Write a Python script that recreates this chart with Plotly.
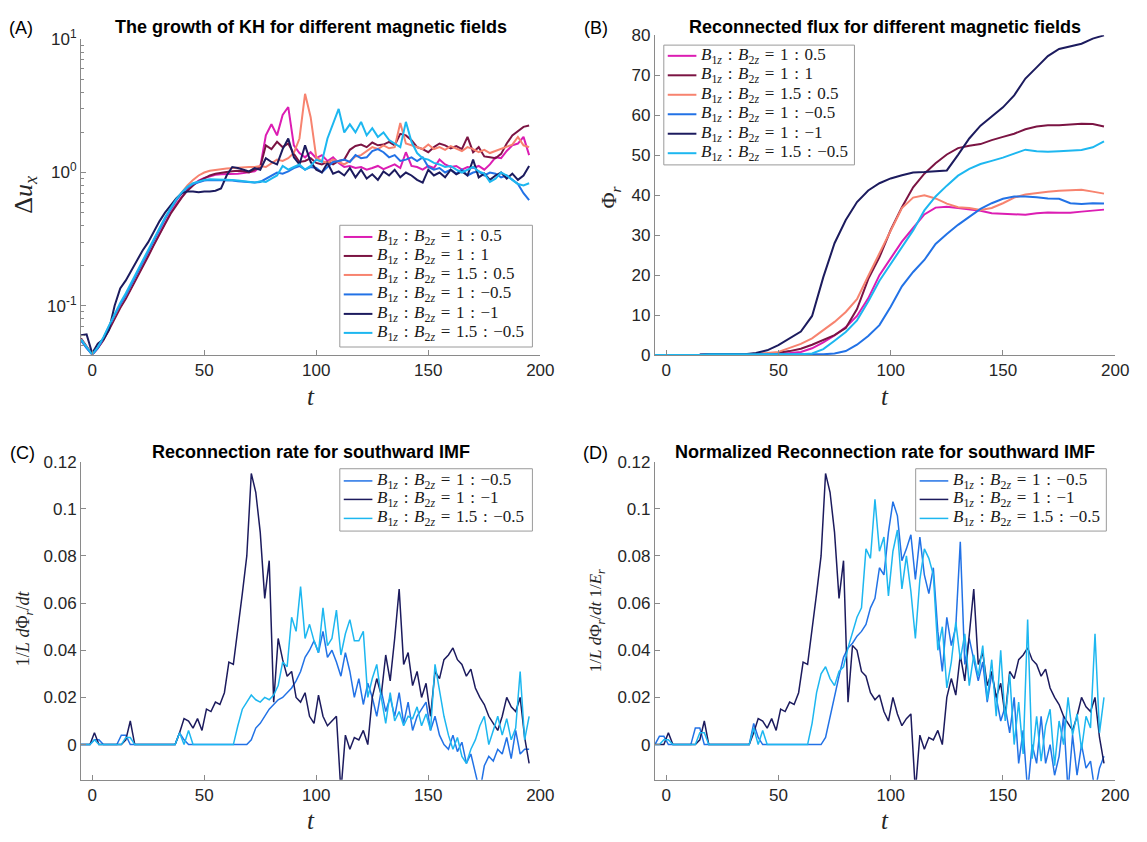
import plotly.graph_objects as go

W, H = 1147, 842

# ---------------- data ----------------
# Panel A: time grid and velocity shear growth (log scale)
t_a = [-5, -2.5, 0, 2.5, 5, 7.5, 10, 12.5, 15, 17.5, 20, 22.5, 25, 27.5, 30, 32.5, 35, 37.5,
       40, 42.5, 45, 47.5, 50, 52.5, 55, 57.5, 60, 62.5, 65, 67.5, 70, 72.5, 75, 77.5, 80, 82.5,
       85, 87.5, 90, 92.5, 95, 97.5, 100, 102.5, 105, 107.5, 110, 112.5, 115, 117.5, 120, 122.5,
       125, 127.5, 130, 132.5, 135, 137.5, 140, 142.5, 145, 147.5, 150, 152.5, 155, 157.5, 160,
       162.5, 165, 167.5, 170, 172.5, 175, 177.5, 180, 182.5, 185, 187.5, 190, 192.5, 195]

du_1_05 = [0.055, 0.049, 0.043, 0.048, 0.056, 0.068, 0.082, 0.098, 0.115, 0.138, 0.165, 0.2, 0.24, 0.29, 0.35,
           0.42, 0.5, 0.58, 0.66, 0.74, 0.81, 0.87, 0.91, 0.94, 0.96, 0.97, 0.97, 0.98, 0.98, 0.99,
           1.0, 1.02, 1.1, 1.9, 2.3, 1.9, 2.7, 3.1, 1.6, 1.4, 1.3, 1.42, 1.28, 1.35, 1.22, 1.3, 1.18, 1.1,
           1.12, 1.08, 1.1, 1.05, 1.08, 1.12, 1.06, 1.1, 1.15, 1.08, 1.42, 1.12, 1.1, 1.05, 1.12, 1.08,
           1.25, 1.15, 1.1, 1.12, 1.05, 1.1, 1.08, 1.12, 1.05, 1.15, 1.3, 1.28, 1.45, 1.6, 1.65, 1.85, 1.35]
du_1_1 = [0.057, 0.05, 0.043, 0.048, 0.055, 0.066, 0.08, 0.096, 0.113, 0.135, 0.162, 0.195, 0.235, 0.285, 0.345,
          0.41, 0.49, 0.57, 0.65, 0.73, 0.8, 0.86, 0.91, 0.95, 0.98, 1.0, 1.01, 1.02, 1.03, 1.02,
          1.0, 1.05, 1.1, 1.6, 1.5, 1.7, 1.55, 1.65, 1.38, 1.2, 1.22, 1.28, 1.18, 1.15, 1.2, 1.15, 1.22, 1.25,
          1.48, 1.58, 1.62, 1.55, 1.68, 1.6, 1.62, 1.7, 1.6, 1.95, 1.9, 1.75, 1.55, 1.5, 1.42, 1.55, 1.65,
          1.6, 1.52, 1.58, 1.5, 1.85, 1.42, 1.55, 1.32, 1.3, 1.28, 1.38, 1.65, 1.9, 2.05, 2.2, 2.25]
du_15_05 = [0.056, 0.049, 0.043, 0.049, 0.057, 0.07, 0.085, 0.102, 0.12, 0.145, 0.175, 0.21, 0.255, 0.31, 0.37,
            0.45, 0.53, 0.62, 0.71, 0.8, 0.88, 0.95, 1.0, 1.03, 1.05, 1.06, 1.07, 1.08, 1.09, 1.1,
            1.1, 1.1, 1.12, 1.1, 1.18, 1.25, 1.22, 1.28, 1.4, 1.8, 3.9, 2.6, 1.3, 1.22, 1.18, 1.25, 1.2, 1.15,
            1.22, 1.32, 1.35, 1.45, 1.55, 1.5, 1.6, 1.52, 1.55, 2.35, 1.65, 1.6, 1.55, 1.5, 1.62, 1.5, 1.55,
            1.48, 1.58, 1.52, 1.45, 1.55, 1.5, 1.42, 1.48, 1.4, 1.45, 1.5, 1.55, 1.62, 1.85, 1.6, 1.55]
du_1_m05 = [0.055, 0.048, 0.043, 0.048, 0.057, 0.07, 0.085, 0.102, 0.12, 0.145, 0.175, 0.21, 0.255, 0.31, 0.375,
            0.45, 0.53, 0.62, 0.7, 0.77, 0.82, 0.85, 0.87, 0.88, 0.88, 0.88, 0.87, 0.87, 0.86, 0.85,
            0.85, 0.84, 0.85, 0.9, 0.95, 1.0, 0.98, 1.02, 1.08, 1.12, 1.05, 1.1, 1.08, 1.0, 1.1, 1.2, 1.22, 1.25,
            1.2, 1.35, 1.28, 1.3, 1.45, 1.5, 1.42, 1.3, 1.35, 1.22, 1.25, 1.3, 1.22, 1.3, 1.1, 1.05, 1.08,
            1.0, 1.05, 0.98, 1.05, 0.95, 1.0, 1.02, 0.95, 1.0, 0.98, 0.92, 0.95, 0.88, 0.82, 0.7, 0.62]
du_1_m1 = [0.06, 0.061, 0.044, 0.052, 0.056, 0.066, 0.1, 0.135, 0.155, 0.185, 0.22, 0.26, 0.3, 0.36, 0.43,
           0.5, 0.57, 0.64, 0.7, 0.72, 0.72, 0.71, 0.72, 0.72, 0.73, 0.76, 0.95, 1.1, 1.08, 1.05,
           1.02, 1.08, 1.05, 1.28, 1.2, 1.15, 1.5, 1.8, 1.3, 1.15, 1.6, 1.2, 1.05, 1.0, 1.18, 0.98, 1.02, 0.95,
           1.08, 0.92, 1.05, 0.9, 0.97, 0.88, 1.02, 0.95, 1.05, 0.92, 1.0, 0.95, 0.88, 0.84, 1.05, 0.95, 1.0,
           0.92, 1.05, 0.97, 1.02, 0.95, 1.25, 0.92, 0.98, 0.88, 0.95, 1.0, 0.9, 0.98, 0.88, 0.95, 1.12]
du_15_m05 = [0.056, 0.049, 0.043, 0.049, 0.058, 0.071, 0.087, 0.105, 0.124, 0.15, 0.18, 0.22, 0.265, 0.32, 0.39,
             0.46, 0.54, 0.63, 0.71, 0.78, 0.83, 0.86, 0.88, 0.89, 0.89, 0.89, 0.88, 0.88, 0.87, 0.86,
             0.85, 0.84, 0.86, 0.85, 0.9, 0.95, 1.12, 1.05, 1.1, 1.15, 1.05, 1.12, 1.25, 1.2, 1.8, 2.3, 3.0, 2.0,
             2.3, 2.0, 2.4, 1.9, 2.15, 1.85, 2.0, 1.75, 1.65, 1.55, 2.4, 1.7, 1.4, 1.28, 1.25, 1.18, 1.15,
             1.1, 1.12, 1.05, 1.0, 1.05, 1.1, 1.02, 0.98, 0.85, 0.9, 1.0, 0.95, 0.88, 0.82, 0.8, 0.83]

# Panel B: reconnected flux
t_b = [-5, 0, 5, 10, 15, 20, 25, 30, 35, 40, 45, 50, 55, 60, 65, 70, 75, 80, 85, 90, 95, 100, 105,
       110, 115, 120, 125, 130, 135, 140, 145, 150, 155, 160, 165, 170, 175, 180, 185, 190, 195]
phi_1_05 = [0, 0, 0, 0, 0.1, 0.2, 0.2, 0.2, 0.2, 0.2, 0.3, 0.4, 0.5, 0.8, 1.7, 3.2, 4.9, 7.0, 9.8, 14.2,
            20.0, 24.2, 28.4, 31.8, 35.2, 36.9, 37.1, 36.8, 36.4, 36.1, 35.5, 35.4, 35.2, 35.1, 35.5,
            35.7, 35.6, 35.6, 35.9, 36.2, 36.4]
phi_1_1 = [0, 0, 0, 0, 0.1, 0.2, 0.2, 0.2, 0.2, 0.3, 0.4, 0.6, 1.0, 1.6, 2.6, 3.7, 5.0, 6.8, 11.5, 19.0,
           24.5, 31.3, 37.0, 42.0, 45.4, 48.0, 50.2, 51.8, 52.4, 52.8, 53.8, 54.6, 55.4, 56.5, 57.2,
           57.5, 57.5, 57.7, 57.9, 57.8, 57.2]
phi_15_05 = [0, 0, 0, 0, 0.1, 0.2, 0.2, 0.2, 0.2, 0.3, 0.5, 0.8, 1.8, 2.8, 4.2, 6.2, 8.3, 10.8, 14.0, 19.8,
             25.6, 31.2, 36.8, 39.4, 40.0, 39.2, 37.9, 37.0, 36.8, 36.3, 36.8, 38.0, 39.4, 40.2, 40.6,
             40.9, 41.1, 41.3, 41.4, 40.9, 40.4]
phi_1_m05 = [0, 0, 0, 0, 0.1, 0.2, 0.2, 0.2, 0.2, 0.2, 0.2, 0.2, 0.2, 0.2, 0.2, 0.2, 0.4, 1.0, 2.6, 4.8,
             7.5, 12.1, 17.2, 20.8, 23.8, 27.8, 30.3, 32.6, 34.6, 36.6, 38.0, 39.1, 39.7, 39.7, 39.5,
             39.2, 39.1, 38.0, 37.8, 38.0, 37.9]
phi_1_m1 = [0, 0, 0, 0, 0.1, 0.2, 0.2, 0.2, 0.2, 0.5, 1.2, 2.5, 4.2, 5.9, 9.8, 19.5, 28.0, 33.8, 38.3, 41.2,
            43.0, 44.2, 45.0, 45.7, 45.8, 46.0, 46.2, 50.1, 54.2, 57.4, 59.6, 62.0, 65.0, 69.2, 72.0,
            74.8, 76.6, 77.2, 77.9, 79.2, 80.0]
phi_15_m05 = [0, 0, 0, 0, 0.1, 0.2, 0.2, 0.2, 0.2, 0.2, 0.2, 0.2, 0.2, 0.2, 0.4, 1.5, 3.6, 5.8, 8.7, 13.4,
              18.6, 22.8, 27.2, 31.2, 36.2, 39.7, 42.4, 44.9, 46.6, 47.8, 48.6, 49.4, 50.4, 51.4, 51.0,
              50.9, 51.0, 51.2, 51.3, 52.0, 53.5]

# Panels C and D: reconnection rates (southward IMF)
t_c = [-5, -3, -1, 1, 3, 5, 7, 9, 11, 13, 15, 17, 19, 21, 23, 25, 27, 29, 31, 33, 35, 37, 39, 41, 43,
       45, 47, 49, 51, 53, 55, 57, 59, 61, 63, 65, 67, 69, 71, 73, 75, 77, 79, 81, 83, 85, 87, 89, 91,
       93, 95, 97, 99, 101, 103, 105, 107, 109, 111, 113, 115, 117, 119, 121, 123, 125, 127, 129, 131,
       133, 135, 137, 139, 141, 143, 145, 147, 149, 151, 153, 155, 157, 159, 161, 163, 165, 167, 169,
       171, 173, 175, 177, 179, 181, 183, 185, 187, 189, 191, 193, 195]

rate_1_m05 = [0, 0, 0, 0.002, 0.002, 0, 0, 0, 0, 0.004, 0.004, 0, 0, 0, 0, 0, 0, 0, 0, 0, 0, 0, 0.005, 0.002, 0,
              0, 0, 0, 0, 0, 0, 0, 0, 0, 0, 0, 0, 0, 0.002, 0.007, 0.009, 0.012, 0.015, 0.017, 0.019, 0.02,
              0.022, 0.024, 0.027, 0.031, 0.037, 0.04, 0.044, 0.039, 0.048, 0.037, 0.04, 0.035, 0.029, 0.039,
              0.031, 0.02, 0.028, 0.017, 0.026, 0.02, 0.012, 0.023, 0.014, 0.02, 0.012, 0.022, 0.009, 0.018,
              0.006, 0.012, 0.015, 0.018, 0.006, 0.012, 0.004, 0.0, -0.002, 0.004, -0.003, 0.001, -0.008,
              -0.004, -0.012, -0.02, -0.009, -0.005, -0.007, -0.002, -0.004, 0.003, -0.006, 0.006, -0.004,
              -0.002, -0.002]
rate_1_m1 = [0, 0, 0, 0.005, 0, 0, 0, 0, 0, 0, 0.002, 0.01, 0, 0, 0, 0, 0, 0, 0, 0, 0, 0, 0.005, 0.011, 0.01,
             0.007, 0.011, 0.006, 0.015, 0.014, 0.018, 0.017, 0.022, 0.035, 0.034, 0.048, 0.064, 0.08, 0.115,
             0.107, 0.09, 0.062, 0.078, 0.018, 0.045, 0.036, 0.029, 0.031, 0.02, 0.018, 0.022, 0.012, 0.009,
             0.021, 0.012, 0.008, 0.01, 0.012, -0.02, 0.004, -0.002, 0.003, 0.002, 0.006, 0.0, 0.02, 0.028,
             0.021, 0.038, 0.027, 0.045, 0.066, 0.034, 0.039, 0.025, 0.031, 0.02, 0.026, 0.012, 0.031, 0.028,
             0.036, 0.038, 0.041, 0.036, 0.034, 0.029, 0.032, 0.024, 0.02, 0.017, 0.012, 0.009, 0.006, 0.012,
             0.02, 0.016, 0.014, 0.02, 0.003, -0.008]
rate_15_m05 = [0, 0, 0, 0.002, 0, 0, 0, 0, 0, 0, 0.003, 0.003, 0, 0, 0, 0, 0, 0, 0, 0, 0, 0, 0.005, 0.0, 0.006,
               0, 0, 0, 0, 0, 0, 0, 0, 0, 0, 0.008, 0.015, 0.018, 0.021, 0.019, 0.018, 0.02, 0.019, 0.021,
               0.025, 0.035, 0.033, 0.054, 0.048, 0.067, 0.045, 0.051, 0.044, 0.039, 0.058, 0.042, 0.045,
               0.057, 0.038, 0.047, 0.053, 0.044, 0.044, 0.048, 0.02, 0.028, 0.034, 0.02, 0.009, 0.022, 0.01,
               0.014, 0.008, 0.012, 0.011, 0.016, 0.008, 0.013, 0.006, 0.034, 0.022, 0.012, 0.004, -0.002,
               0.003, -0.005, -0.008, -0.002, 0.002, 0.008, 0.012, 0.0, 0.006, 0.012, 0.004, 0.011, 0.002,
               0.007, 0.031, 0.002, 0.012]

nrate_1_m05 = [0, 0.0035, 0.0035, 0, 0, 0, 0, 0, 0, 0.007, 0.007, 0, 0, 0, 0, 0, 0, 0, 0, 0, 0, 0, 0.009, 0.003,
               0, 0, 0, 0, 0, 0, 0, 0, 0, 0, 0, 0, 0, 0, 0.003, 0.012, 0.02, 0.029, 0.037, 0.041, 0.043,
               0.046, 0.048, 0.051, 0.058, 0.062, 0.075, 0.072, 0.09, 0.103, 0.097, 0.078, 0.083, 0.089, 0.07,
               0.088, 0.072, 0.064, 0.075, 0.048, 0.031, 0.054, 0.042, 0.05, 0.086, 0.034, 0.045, 0.036,
               0.027, 0.035, 0.018, 0.03, 0.02, 0.01, 0.016, 0.005, 0.02, -0.008, 0.006, -0.02, 0.0, -0.008,
               0.012, -0.008, 0.0, -0.013, -0.005, 0.012, -0.02, 0.004, -0.013, 0.0, -0.01, -0.007, -0.02,
               -0.01, -0.005]
nrate_1_m1 = [0, 0, 0, 0.005, 0, 0, 0, 0, 0, 0, 0.002, 0.01, 0, 0, 0, 0, 0, 0, 0, 0, 0, 0, 0.005, 0.011, 0.01,
              0.007, 0.011, 0.006, 0.015, 0.014, 0.018, 0.017, 0.022, 0.035, 0.034, 0.048, 0.064, 0.08, 0.115,
              0.107, 0.09, 0.062, 0.078, 0.018, 0.042, 0.04, 0.031, 0.029, 0.022, 0.019, 0.021, 0.014, 0.01,
              0.02, 0.013, 0.008, 0.011, 0.013, -0.02, 0.004, -0.002, 0.003, 0.002, 0.006, 0.0, 0.02, 0.028,
              0.021, 0.038, 0.027, 0.045, 0.066, 0.034, 0.039, 0.025, 0.031, 0.02, 0.026, 0.012, 0.031, 0.028,
              0.036, 0.038, 0.041, 0.036, 0.034, 0.029, 0.032, 0.024, 0.02, 0.017, 0.012, 0.009, 0.006, 0.012,
              0.02, 0.016, 0.014, 0.02, 0.003, -0.008]
nrate_15_m05 = [0, 0, 0.002, 0.002, 0, 0, 0, 0, 0, 0, 0.005, 0.005, 0, 0, 0, 0, 0, 0, 0, 0, 0, 0, 0.007, 0.0,
                0.006, 0, 0, 0, 0, 0, 0, 0, 0, 0, 0, 0.009, 0.022, 0.03, 0.033, 0.028, 0.025, 0.031, 0.033,
                0.041, 0.047, 0.054, 0.058, 0.083, 0.079, 0.104, 0.082, 0.088, 0.063, 0.082, 0.091, 0.066,
                0.08, 0.065, 0.045, 0.07, 0.083, 0.079, 0.072, 0.04, 0.05, 0.024, 0.035, 0.052, 0.036, 0.047,
                0.025, 0.038, 0.029, 0.042, 0.019, 0.036, 0.012, 0.04, 0.01, 0.03, 0.0, 0.018, -0.004, 0.053,
                -0.006, 0.012, -0.007, 0.008, 0.015, -0.009, 0.01, 0.0, 0.02, 0.004, 0.013, -0.002, 0.012,
                0.007, 0.047, 0.005, 0.02]

for arr in [du_1_05, du_1_1, du_15_05, du_1_m05, du_1_m1, du_15_m05]:
    assert len(arr) == len(t_a), len(arr)
for arr in [phi_1_05, phi_1_1, phi_15_05, phi_1_m05, phi_1_m1, phi_15_m05]:
    assert len(arr) == len(t_b), len(arr)
for arr in [rate_1_m05, rate_1_m1, rate_15_m05, nrate_1_m05, nrate_1_m1, nrate_15_m05]:
    assert len(arr) == len(t_c), len(arr)

ratios = ["1 : 0.5", "1 : 1", "1.5 : 0.5", "1 : \u22120.5", "1 : \u22121", "1.5 : \u22120.5"]
colors = ["#DC1DB3", "#7B1443", "#F7836F", "#2272E6", "#1C1B5E", "#1DB7F0"]


def legend_label(r):
    r = r.replace(" : ", "\u2004:\u2004")
    return ("<i>B</i><sub>1<i>z</i></sub>\u2004:\u2004<i>B</i><sub>2<i>z</i></sub>"
            "\u2004=\u2004" + r)


labels = [legend_label(r) for r in ratios]

fig = go.Figure()

seriesA = [du_1_05, du_1_1, du_15_05, du_1_m05, du_1_m1, du_15_m05]
for i, ys in enumerate(seriesA):
    fig.add_trace(go.Scatter(x=t_a, y=ys, mode="lines", name=labels[i], showlegend=False,
                             line=dict(color=colors[i], width=2), xaxis="x", yaxis="y"))
seriesB = [phi_1_05, phi_1_1, phi_15_05, phi_1_m05, phi_1_m1, phi_15_m05]
for i, ys in enumerate(seriesB):
    fig.add_trace(go.Scatter(x=t_b, y=ys, mode="lines", name=labels[i], showlegend=False,
                             line=dict(color=colors[i], width=2), xaxis="x2", yaxis="y2"))
seriesC = [rate_1_m05, rate_1_m1, rate_15_m05]
for j, ys in enumerate(seriesC):
    i = j + 3
    fig.add_trace(go.Scatter(x=t_c, y=ys, mode="lines", name=labels[i], showlegend=False,
                             line=dict(color=colors[i], width=1.5), xaxis="x3", yaxis="y3"))
seriesD = [nrate_1_m05, nrate_1_m1, nrate_15_m05]
for j, ys in enumerate(seriesD):
    i = j + 3
    fig.add_trace(go.Scatter(x=t_c, y=ys, mode="lines", name=labels[i], showlegend=False,
                             line=dict(color=colors[i], width=1.5), xaxis="x4", yaxis="y4"))

AXC = "#8a8a8a"
TXT = "#262626"
tickfont = dict(family="Liberation Sans, Arial, sans-serif", size=17, color=TXT)
common = dict(showline=True, linecolor=AXC, linewidth=1, ticks="inside", ticklen=5,
              tickcolor=AXC, showgrid=False, zeroline=False, tickfont=tickfont, mirror=False)


def fx(px):
    return px / W


def fy(py):
    return 1 - py / H


xA = [fx(82), fx(547)]
xB = [fx(663), fx(1129)]
yA = [fy(351.7), fy(28)]
yB = [fy(352.3), fy(24)]
yC = [fy(788.3), fy(461.7)]

xt = dict(range=[-5, 200], tickmode="array", tickvals=[0, 50, 100, 150, 200])
minor_vals = [0.05, 0.06, 0.07, 0.08, 0.09, 0.2, 0.3, 0.4, 0.5, 0.6, 0.7, 0.8, 0.9,
              2, 3, 4, 5, 6, 7, 8, 9]

fig.update_layout(
    width=W, height=H, margin=dict(l=0, r=0, t=0, b=0),
    plot_bgcolor="white", paper_bgcolor="white", showlegend=False,
    xaxis=dict(domain=xA, anchor="y", **xt, **common),
    yaxis=dict(domain=yA, anchor="x", type="log", range=[-1.366, 1.0], tickmode="array",
               tickvals=[0.1, 1, 10], ticktext=["10<sup>-1</sup>", "10<sup>0</sup>", "10<sup>1</sup>"],
               minor=dict(tickmode="array", tickvals=minor_vals, ticks="inside", ticklen=3,
                          tickcolor=AXC, showgrid=False),
               **common),
    xaxis2=dict(domain=xB, anchor="y2", **xt, **common),
    yaxis2=dict(domain=yB, anchor="x2", range=[0, 80], tickmode="array",
                tickvals=[0, 10, 20, 30, 40, 50, 60, 70, 80], **common),
    xaxis3=dict(domain=xA, anchor="y3", **xt, **common),
    yaxis3=dict(domain=yC, anchor="x3", range=[-0.0149, 0.12], tickmode="array",
                tickvals=[0, 0.02, 0.04, 0.06, 0.08, 0.1, 0.12],
                ticktext=["0", "0.02", "0.04", "0.06", "0.08", "0.1", "0.12"], **common),
    xaxis4=dict(domain=xB, anchor="y4", **xt, **common),
    yaxis4=dict(domain=yC, anchor="x4", range=[-0.0149, 0.12], tickmode="array",
                tickvals=[0, 0.02, 0.04, 0.06, 0.08, 0.1, 0.12],
                ticktext=["0", "0.02", "0.04", "0.06", "0.08", "0.1", "0.12"], **common),
)

shapes = []
ann = []
serif = "Liberation Serif, Times New Roman, serif"
legfont = dict(family=serif, size=17, color="#1a1a1a")


def add_legend(box, rows, idxs, lw):
    x0, y0, x1, y1 = box
    shapes.append(dict(type="rect", xref="paper", yref="paper", x0=fx(x0), x1=fx(x1),
                       y0=fy(y1), y1=fy(y0), line=dict(color="#9a9a9a", width=1),
                       fillcolor="white", layer="above"))
    for ry, i in zip(rows, idxs):
        shapes.append(dict(type="line", xref="paper", yref="paper", x0=fx(x0 + 4), x1=fx(x0 + 33),
                           y0=fy(ry), y1=fy(ry), line=dict(color=colors[i], width=lw), layer="above"))
        ann.append(dict(text=labels[i], x=fx(x0 + 36), y=fy(ry), xref="paper", yref="paper",
                        showarrow=False, xanchor="left", yanchor="middle", font=legfont))


add_legend((344, 219, 539, 344), [231, 250.5, 270, 290, 310, 329.5], [0, 1, 2, 3, 4, 5], 2)
add_legend((672, 34, 865, 157), [45, 65, 85, 105, 125, 145], [0, 1, 2, 3, 4, 5], 2)
add_legend((344, 469, 539, 533), [481.5, 500.5, 520], [3, 4, 5], 1.5)
add_legend((927, 469, 1120, 533), [481.5, 500.5, 520], [3, 4, 5], 1.5)

titlefont = dict(family="Liberation Sans, Arial, sans-serif", size=18, color="black")
for txt, cx, cy in [("The growth of KH for different magnetic fields", 314.5, 15),
                    ("Reconnected flux for different magnetic fields", 896, 15),
                    ("Reconnection rate for southward IMF", 314.5, 452),
                    ("Normalized Reconnection rate for southward IMF", 896, 452)]:
    ann.append(dict(text="<b>%s</b>" % txt, x=fx(cx), y=fy(cy), xref="paper", yref="paper",
                    showarrow=False, xanchor="center", yanchor="middle", font=titlefont))
panfont = dict(family="Liberation Sans, Arial, sans-serif", size=18, color="black")
for txt, cx, cy in [("(A)", 21, 16), ("(B)", 603, 16), ("(C)", 23, 453), ("(D)", 603, 453)]:
    ann.append(dict(text=txt, x=fx(cx), y=fy(cy), xref="paper", yref="paper", showarrow=False,
                    xanchor="center", yanchor="middle", font=panfont))
for cx, cy in [(314.5, 395), (896, 395), (314.5, 830), (896, 830)]:
    ann.append(dict(text="<i>t</i>", x=fx(cx), y=fy(cy), xref="paper", yref="paper",
                    showarrow=False, xanchor="center", yanchor="middle",
                    font=dict(family=serif, size=25, color=TXT)))
ann.append(dict(text="\u0394<i>u</i><sub><i>x</i></sub>", x=fx(25), y=fy(188), xref="paper", yref="paper",
                showarrow=False, textangle=-90, xanchor="center", yanchor="middle",
                font=dict(family=serif, size=26, color=TXT)))
ann.append(dict(text="\u03a6<sub><i>r</i></sub>", x=fx(618), y=fy(190), xref="paper", yref="paper",
                showarrow=False, textangle=-90, xanchor="center", yanchor="middle",
                font=dict(family=serif, size=22, color=TXT)))
ann.append(dict(text="1/<i>L</i> <i>d</i>\u03a6<sub><i>r</i></sub>/<i>dt</i>", x=fx(25), y=fy(633),
                xref="paper", yref="paper", showarrow=False, textangle=-90, xanchor="center",
                yanchor="middle", font=dict(family=serif, size=18, color=TXT)))
ann.append(dict(text="1/<i>L</i> <i>d</i>\u03a6<sub><i>r</i></sub>/<i>dt</i> 1/<i>E</i><sub><i>r</i></sub>",
                x=fx(604), y=fy(625), xref="paper", yref="paper", showarrow=False, textangle=-90,
                xanchor="center", yanchor="middle", font=dict(family=serif, size=17, color=TXT)))
fig.update_layout(annotations=ann, shapes=shapes)

fig.write_html("out.html")
